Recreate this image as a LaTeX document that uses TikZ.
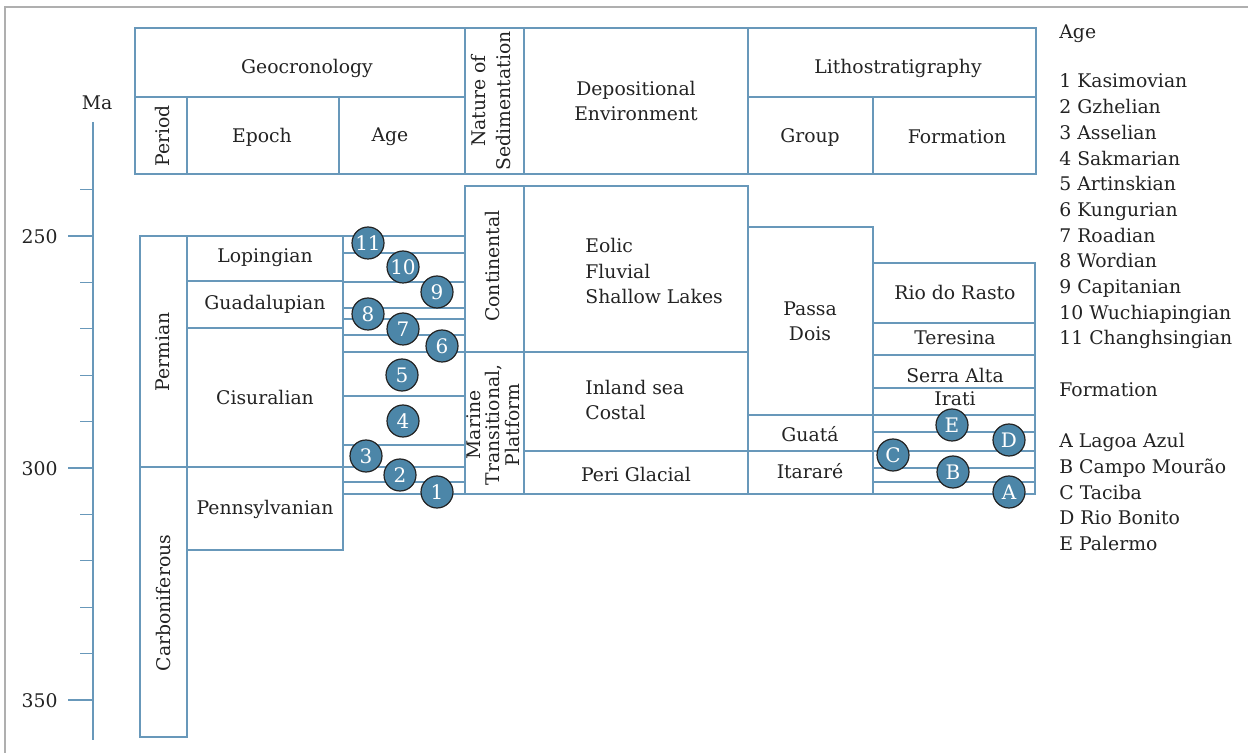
\documentclass[tikz,border=0pt]{standalone}
\usepackage{fontspec}
\setmainfont{DejaVu Serif}
\usetikzlibrary{positioning}
\usetikzlibrary{calc}
\definecolor{rulecol}{RGB}{104,152,186}
\definecolor{dotcol}{RGB}{76,134,168}
\definecolor{framecol}{RGB}{175,175,175}
\definecolor{inkcol}{RGB}{35,35,35}

\begin{document}
\begin{tikzpicture}[x=0.5pt,y=-0.5pt,
  cell/.style={draw=rulecol,line width=0.6pt},
  lbl/.style={font=\fontsize{9.4}{12.7}\selectfont,text=inkcol,inner sep=0pt,align=center},
  vlbl/.style={lbl,rotate=90},
  key/.style={lbl,anchor=base west},
  dot/.style={circle,fill=dotcol,draw=inkcol,line width=0.6pt,minimum size=16pt,inner sep=0pt,text=white,font=\fontsize{10}{12}\selectfont}]
\useasboundingbox (0,0) rectangle (1248,753);
\draw[framecol,line width=0.8pt] (5,753) -- (5,7) -- (1248,7);

\draw[cell] (135,28) rectangle (465,174);
\draw[cell] (135,97) -- (465,97) (187,97) -- (187,174) (339,97) -- (339,174);
\draw[cell] (465,28) rectangle (524,174);
\draw[cell] (524,28) rectangle (748,174);
\draw[cell] (748,28) rectangle (1036,174);
\draw[cell] (748,97) -- (1036,97) (873,97) -- (873,174);

\node[lbl](geo) at (307,68){Geocronology};
\node[vlbl](period) at (162,136){Period};
\node[lbl](epoch) at (262,137){Epoch};
\node[lbl](age) at (390,137){Age};
\node[vlbl](nature) at (491,101){Nature of\\Sedimentation};
\node[lbl](depo) at (636,101){Depositional\\Environment};
\node[lbl](litho) at (898,68){Lithostratigraphy};
\node[lbl](group) at (810,137){Group};
\node[lbl](formation) at (957,137){Formation};

\draw[cell] (93,122) -- (93,740);
\foreach \k in {0,5,10} \draw[cell] (68,{236+46.4*\k}) -- (93,{236+46.4*\k});
\foreach \k in {-1,1,2,3,4,6,7,8,9} \draw[cell] (80,{236+46.4*\k}) -- (93,{236+46.4*\k});
\node[lbl](ma) at (97,103){Ma};
\node[lbl,anchor=east](ma250) at (58,237){250};
\node[lbl,anchor=east](ma300) at (58,469){300};
\node[lbl,anchor=east](ma350) at (58,701){350};

\draw[cell] (140,236) rectangle (187,467);
\draw[cell] (140,467) rectangle (187,737);
\draw[cell] (187,236) rectangle (343,281);
\draw[cell] (187,281) rectangle (343,328);
\draw[cell] (187,328) rectangle (343,467);
\draw[cell] (187,467) rectangle (343,550);
\foreach \y in {236,253,282,308,319,335,352,396,445,467,482,494}
  \draw[cell] (343,\y) -- (465,\y);

\draw[cell] (465,186) rectangle (524,352);
\draw[cell] (465,352) rectangle (524,494);
\draw[cell] (524,186) rectangle (748,352);
\draw[cell] (524,352) rectangle (748,451);
\draw[cell] (524,451) rectangle (748,494);

\draw[cell] (748,227) rectangle (873,415);
\draw[cell] (748,415) rectangle (873,451);
\draw[cell] (748,451) rectangle (873,494);

\draw[cell] (873,263) rectangle (1035,323);
\draw[cell] (873,323) rectangle (1035,355);
\draw[cell] (873,355) rectangle (1035,388);
\draw[cell] (873,388) rectangle (1035,415);
\draw[cell] (873,415) rectangle (1035,494);
\foreach \y in {432,451,468,482}
  \draw[cell] (873,\y) -- (1035,\y);

\node[vlbl](permian) at (163,352){Permian};
\node[vlbl](carbon) at (163,603){Carboniferous};
\node[lbl](lop) at (265,258){Lopingian};
\node[lbl](guad) at (265,304){Guadalupian};
\node[lbl](cis) at (265,397){Cisuralian};
\node[lbl](penn) at (265,509){Pennsylvanian};
\node[vlbl](conti) at (492,266){Continental};
\node[vlbl,font=\fontsize{9.4}{9.8}\selectfont](marine) at (493,425){Marine\\Transitional,\\Platform};
\node[lbl,anchor=west,align=left](eolic) at (585,271){Eolic\\Fluvial\\Shallow Lakes};
\node[lbl,anchor=west,align=left](inland) at (585,400){Inland sea\\Costal};
\node[lbl](peri) at (636,474){Peri Glacial};
\node[lbl](passa) at (810,321){Passa\\Dois};
\node[lbl](guata) at (810,434){Guatá};
\node[lbl](itarare) at (810,471){Itararé};
\node[lbl](rasto) at (955,292){Rio do Rasto};
\node[lbl](teresina) at (955,338){Teresina};
\node[lbl](serra) at (955,375){Serra Alta};
\node[lbl](irati) at (955,399){Irati};

\node[dot](a11) at (368,243){11};
\node[dot](a10) at (403,267){10};
\node[dot](a9) at (437,292){9};
\node[dot](a8) at (368,314){8};
\node[dot](a7) at (403,329){7};
\node[dot](a6) at (442,346){6};
\node[dot](a5) at (402,375){5};
\node[dot](a4) at (403,421){4};
\node[dot](a3) at (366,456){3};
\node[dot](a2) at (400,475){2};
\node[dot](a1) at (437,492){1};
\node[dot](fE) at (952,425){E};
\node[dot](fD) at (1009,440){D};
\node[dot](fC) at (893,455){C};
\node[dot](fB) at (953,472){B};
\node[dot](fA) at (1009,492){A};

\node[key](agehead) at (1059,39){Age};
\foreach \t [count=\i] in {1 Kasimovian,2 Gzhelian,3 Asselian,4 Sakmarian,5 Artinskian,6 Kungurian,7 Roadian,8 Wordian,9 Capitanian,10 Wuchiapingian,11 Changhsingian}
  \node[key](agekey\i) at (1059,{88+25.7*(\i-1)}){\t};
\node[key](formhead) at (1059,397){Formation};
\foreach \t [count=\i] in {A Lagoa Azul,B Campo Mourão,C Taciba,D Rio Bonito,E Palermo}
  \node[key](formkey\i) at (1059,{448+25.6*(\i-1)}){\t};
\end{tikzpicture}
\end{document}
